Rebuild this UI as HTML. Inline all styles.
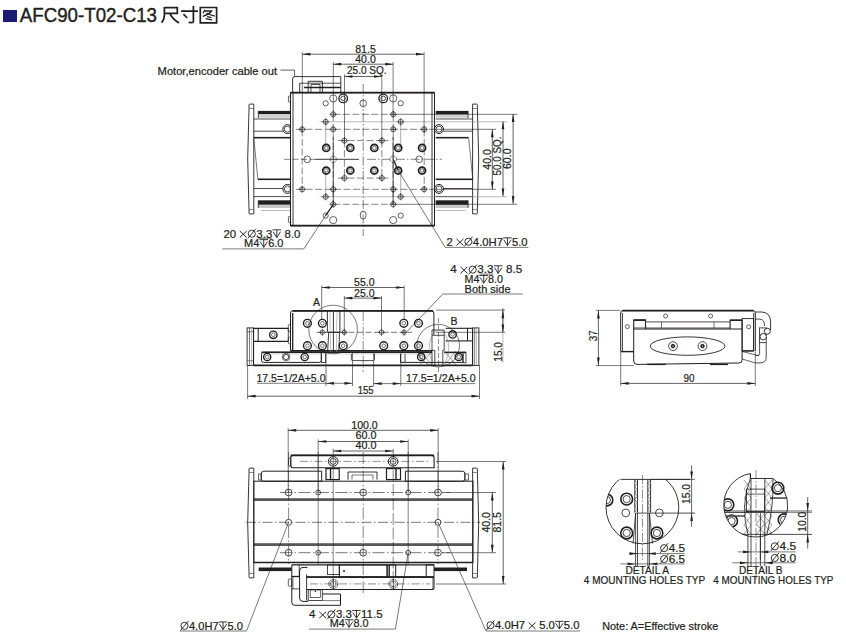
<!DOCTYPE html><html><head><meta charset="utf-8"><style>
html,body{margin:0;padding:0;background:#fff;width:846px;height:640px;overflow:hidden}
svg{display:block}
text{font-family:"Liberation Sans",sans-serif;fill:#231f20;white-space:pre}
</style></head><body>
<svg width="846" height="640" viewBox="0 0 846 640">
<rect x="3" y="10" width="14" height="12" fill="#1b1a72"/>
<g transform="translate(19.80 21.70)">
<text x="0.00" y="0" font-size="19.4" textLength="137.20" lengthAdjust="spacingAndGlyphs" stroke="#231f20" stroke-width="0.4">AFC90-T02-C13</text>
</g>
<g fill="none" stroke="#231f20" stroke-width="1.45" stroke-linecap="butt">
<path d="M164.4,7.7 H177.3 V13.3 H164.4 M164.4,7.0 V15.5 Q164.2,19.5 161.6,22.8" fill="none" stroke="#231f20" stroke-width="1.75"/>
<path d="M169.8,13.3 Q172.5,19 179,22.9" fill="none" stroke="#231f20" stroke-width="1.75"/>
<path d="M181.1,11 H197.9 M193.4,6 V21.2 Q193.4,22.6 191.8,22.6 L188.6,22.3 M183.4,14.2 L187.2,18" fill="none" stroke="#231f20" stroke-width="1.75"/>
<path d="M200.3,7.5 H216.6 V22.9 H200.3 Z" fill="none" stroke="#231f20" stroke-width="1.7"/>
<path d="M204.9,9.8 L203.1,13.2 M204.4,11 H211.6 Q209,14.5 202.7,16.3 M206.4,13 Q210,15 214.8,16.2 M207.1,16.6 L211.5,17.7 M205.6,18.7 L212.2,19.9" fill="none" stroke="#231f20" stroke-width="1.3"/>
</g>
<path d="M253.8,104.1 L249.8,104.1 Q249.0,104.1 249.0,105 L249.0,108.5 Q246.4,159 249.0,209.5 L249.0,213 Q249.0,213.9 249.8,213.9 L253.8,213.9 Z" fill="none" stroke="#231f20" stroke-width="0.9"/>
<line x1="249.0" y1="108.5" x2="253.8" y2="108.5" stroke="#231f20" stroke-width="0.5"/>
<line x1="249.0" y1="209.5" x2="253.8" y2="209.5" stroke="#231f20" stroke-width="0.5"/>
<line x1="253.8" y1="138.7" x2="257.9" y2="179.3" stroke="#231f20" stroke-width="0.6"/>
<rect x="258.30" y="110.90" width="32.40" height="3.40" fill="#231f20"/>
<rect x="258.30" y="114.30" width="32.40" height="3.50" fill="#d0d0d0"/>
<line x1="258.3" y1="110.9" x2="258.3" y2="118.0" stroke="#231f20" stroke-width="0.8"/>
<line x1="253.8" y1="119.0" x2="290.7" y2="119.0" stroke="#231f20" stroke-width="0.8"/>
<line x1="253.8" y1="131.2" x2="283.2" y2="131.2" stroke="#231f20" stroke-width="0.8"/>
<rect x="253.80" y="136.90" width="36.90" height="1.60" fill="#231f20"/>
<rect x="257.90" y="178.50" width="32.80" height="1.60" fill="#231f20"/>
<line x1="253.8" y1="188.5" x2="283.2" y2="188.5" stroke="#231f20" stroke-width="0.8"/>
<line x1="253.8" y1="196.6" x2="290.7" y2="196.6" stroke="#231f20" stroke-width="0.8"/>
<rect x="258.30" y="200.30" width="32.40" height="4.50" fill="#231f20"/>
<rect x="258.30" y="204.80" width="32.40" height="3.20" fill="#c8c8c8"/>
<line x1="258.3" y1="200.3" x2="258.3" y2="208.0" stroke="#231f20" stroke-width="0.8"/>
<line x1="261.2" y1="210.5" x2="290.7" y2="210.5" stroke="#999" stroke-width="0.7"/>
<circle cx="287.4" cy="129.1" r="4.5" fill="none" stroke="#231f20" stroke-width="1.0"/>
<circle cx="287.4" cy="129.1" r="3.0" fill="none" stroke="#231f20" stroke-width="0.8"/>
<circle cx="287.4" cy="188.9" r="4.5" fill="none" stroke="#231f20" stroke-width="1.0"/>
<circle cx="287.4" cy="188.9" r="3.0" fill="none" stroke="#231f20" stroke-width="0.8"/>
<rect x="288.4" y="96.0" width="2.0" height="6.1" rx="0.8" fill="none" stroke="#231f20" stroke-width="0.7"/>
<rect x="288.4" y="216.5" width="2.0" height="6.1" rx="0.8" fill="none" stroke="#231f20" stroke-width="0.7"/>
<path d="M472.6,104.1 L476.6,104.1 Q477.4,104.1 477.4,105 L477.4,108.5 Q480.0,159 477.4,209.5 L477.4,213 Q477.4,213.9 476.6,213.9 L472.6,213.9 Z" fill="none" stroke="#231f20" stroke-width="0.9"/>
<line x1="477.4" y1="108.5" x2="472.6" y2="108.5" stroke="#231f20" stroke-width="0.5"/>
<line x1="477.4" y1="209.5" x2="472.6" y2="209.5" stroke="#231f20" stroke-width="0.5"/>
<line x1="468.7" y1="138.7" x2="472.8" y2="179.3" stroke="#231f20" stroke-width="0.6"/>
<rect x="435.70" y="110.90" width="32.40" height="3.40" fill="#231f20"/>
<rect x="435.70" y="114.30" width="32.40" height="3.50" fill="#d0d0d0"/>
<line x1="468.1" y1="110.9" x2="468.1" y2="118.0" stroke="#231f20" stroke-width="0.8"/>
<line x1="472.6" y1="119.0" x2="435.7" y2="119.0" stroke="#231f20" stroke-width="0.8"/>
<line x1="472.6" y1="131.2" x2="443.2" y2="131.2" stroke="#231f20" stroke-width="0.8"/>
<rect x="435.70" y="136.90" width="33.00" height="1.60" fill="#231f20"/>
<rect x="435.70" y="178.50" width="37.10" height="1.60" fill="#231f20"/>
<line x1="472.6" y1="188.5" x2="443.2" y2="188.5" stroke="#231f20" stroke-width="0.8"/>
<line x1="472.6" y1="196.6" x2="435.7" y2="196.6" stroke="#231f20" stroke-width="0.8"/>
<rect x="435.70" y="200.30" width="32.40" height="4.50" fill="#231f20"/>
<rect x="435.70" y="204.80" width="32.40" height="3.20" fill="#c8c8c8"/>
<line x1="468.1" y1="200.3" x2="468.1" y2="208.0" stroke="#231f20" stroke-width="0.8"/>
<line x1="465.2" y1="210.5" x2="435.7" y2="210.5" stroke="#999" stroke-width="0.7"/>
<circle cx="439.0" cy="129.1" r="4.5" fill="none" stroke="#231f20" stroke-width="1.0"/>
<circle cx="439.0" cy="129.1" r="3.0" fill="none" stroke="#231f20" stroke-width="0.8"/>
<circle cx="439.0" cy="188.9" r="4.5" fill="none" stroke="#231f20" stroke-width="1.0"/>
<circle cx="439.0" cy="188.9" r="3.0" fill="none" stroke="#231f20" stroke-width="0.8"/>
<rect x="290.5" y="92.7" width="144" height="133" fill="#fff" stroke="#231f20" stroke-width="1"/>
<line x1="290.5" y1="92.7" x2="434.5" y2="92.7" stroke="#231f20" stroke-width="1.8"/>
<line x1="290.5" y1="225.7" x2="434.5" y2="225.7" stroke="#231f20" stroke-width="1.8"/>
<line x1="293.0" y1="92.7" x2="293.0" y2="225.7" stroke="#231f20" stroke-width="0.9"/>
<line x1="432.0" y1="92.7" x2="432.0" y2="225.7" stroke="#231f20" stroke-width="0.9"/>
<path d="M292.6,92.5 L292.6,79 Q292.6,76.6 295,76.6 L340.8,76.6 L340.8,92.5" fill="none" stroke="#231f20" stroke-width="0.9"/>
<line x1="299.7" y1="83.2" x2="340.8" y2="83.2" stroke="#231f20" stroke-width="0.8"/>
<line x1="303.9" y1="87.5" x2="340.8" y2="87.5" stroke="#231f20" stroke-width="1.5"/>
<path d="M308.2,92.5 L308.2,81.3 L322.4,81.3 L322.4,92.5" fill="none" stroke="#231f20" stroke-width="0.9"/>
<path d="M311,92.5 L311,84.5 L320,84.5 L320,92.5" fill="none" stroke="#231f20" stroke-width="0.8"/>
<line x1="299.7" y1="83.2" x2="299.7" y2="92.5" stroke="#231f20" stroke-width="0.9"/>
<line x1="363.2" y1="84.0" x2="363.2" y2="236.0" stroke="#231f20" stroke-width="0.55" stroke-dasharray="9 2 1.5 2"/>
<line x1="284.0" y1="159.3" x2="315.0" y2="159.3" stroke="#231f20" stroke-width="0.55" stroke-dasharray="6 2.5"/>
<line x1="315.0" y1="159.3" x2="359.0" y2="159.3" stroke="#231f20" stroke-width="0.9"/>
<line x1="367.0" y1="159.3" x2="442.0" y2="159.3" stroke="#231f20" stroke-width="0.55" stroke-dasharray="9 2 1.5 2"/>
<line x1="333.3" y1="114.3" x2="393.1" y2="114.3" stroke="#231f20" stroke-width="0.55" stroke-dasharray="7 2.5"/>
<line x1="393.1" y1="114.3" x2="517.0" y2="114.3" stroke="#231f20" stroke-width="0.6"/>
<line x1="319.5" y1="121.8" x2="507.0" y2="121.8" stroke="#8a8a8a" stroke-width="0.6"/>
<line x1="296.0" y1="129.3" x2="430.0" y2="129.3" stroke="#231f20" stroke-width="0.55" stroke-dasharray="7 2.5"/>
<line x1="430.0" y1="129.3" x2="496.0" y2="129.3" stroke="#231f20" stroke-width="0.6"/>
<line x1="338.0" y1="140.6" x2="388.4" y2="140.6" stroke="#231f20" stroke-width="0.55" stroke-dasharray="7 2.5"/>
<line x1="333.3" y1="204.3" x2="393.1" y2="204.3" stroke="#231f20" stroke-width="0.55" stroke-dasharray="7 2.5"/>
<line x1="393.1" y1="204.3" x2="517.0" y2="204.3" stroke="#231f20" stroke-width="0.6"/>
<line x1="319.5" y1="196.8" x2="507.0" y2="196.8" stroke="#8a8a8a" stroke-width="0.6"/>
<line x1="296.0" y1="189.3" x2="430.0" y2="189.3" stroke="#231f20" stroke-width="0.55" stroke-dasharray="7 2.5"/>
<line x1="430.0" y1="189.3" x2="496.0" y2="189.3" stroke="#231f20" stroke-width="0.6"/>
<line x1="338.0" y1="178.1" x2="388.4" y2="178.1" stroke="#231f20" stroke-width="0.55" stroke-dasharray="7 2.5"/>
<line x1="302.2" y1="129.4" x2="302.2" y2="189.2" stroke="#231f20" stroke-width="0.55" stroke-dasharray="7 2.5"/>
<line x1="333.2" y1="114.2" x2="333.2" y2="204.4" stroke="#231f20" stroke-width="0.55" stroke-dasharray="7 2.5"/>
<line x1="344.4" y1="140.6" x2="344.4" y2="178.0" stroke="#231f20" stroke-width="0.55" stroke-dasharray="7 2.5"/>
<line x1="325.7" y1="121.8" x2="325.7" y2="147.9" stroke="#777" stroke-width="0.6"/>
<line x1="325.7" y1="170.4" x2="325.7" y2="196.5" stroke="#777" stroke-width="0.6"/>
<line x1="424.2" y1="129.4" x2="424.2" y2="189.2" stroke="#231f20" stroke-width="0.55" stroke-dasharray="7 2.5"/>
<line x1="393.2" y1="114.2" x2="393.2" y2="204.4" stroke="#231f20" stroke-width="0.55" stroke-dasharray="7 2.5"/>
<line x1="381.9" y1="140.6" x2="381.9" y2="178.0" stroke="#231f20" stroke-width="0.55" stroke-dasharray="7 2.5"/>
<line x1="400.7" y1="121.8" x2="400.7" y2="147.9" stroke="#777" stroke-width="0.6"/>
<line x1="400.7" y1="170.4" x2="400.7" y2="196.5" stroke="#777" stroke-width="0.6"/>
<line x1="333.3" y1="137.0" x2="333.3" y2="204.5" stroke="#231f20" stroke-width="0.7"/>
<line x1="393.1" y1="137.0" x2="393.1" y2="204.5" stroke="#231f20" stroke-width="0.7"/>
<circle cx="302.2" cy="129.3" r="2.5" fill="none" stroke="#231f20" stroke-width="0.7"/>
<line x1="298.6" y1="129.3" x2="305.8" y2="129.3" stroke="#231f20" stroke-width="0.6"/>
<line x1="302.2" y1="125.7" x2="302.2" y2="132.9" stroke="#231f20" stroke-width="0.6"/>
<circle cx="333.2" cy="114.3" r="2.5" fill="none" stroke="#231f20" stroke-width="0.7"/>
<line x1="329.6" y1="114.3" x2="336.8" y2="114.3" stroke="#231f20" stroke-width="0.6"/>
<line x1="333.2" y1="110.7" x2="333.2" y2="117.9" stroke="#231f20" stroke-width="0.6"/>
<circle cx="333.2" cy="129.3" r="2.5" fill="none" stroke="#231f20" stroke-width="0.7"/>
<line x1="329.6" y1="129.3" x2="336.8" y2="129.3" stroke="#231f20" stroke-width="0.6"/>
<line x1="333.2" y1="125.7" x2="333.2" y2="132.9" stroke="#231f20" stroke-width="0.6"/>
<circle cx="325.7" cy="121.8" r="2.5" fill="none" stroke="#231f20" stroke-width="0.7"/>
<line x1="322.1" y1="121.8" x2="329.3" y2="121.8" stroke="#231f20" stroke-width="0.6"/>
<line x1="325.7" y1="118.2" x2="325.7" y2="125.4" stroke="#231f20" stroke-width="0.6"/>
<circle cx="344.4" cy="140.6" r="2.5" fill="none" stroke="#231f20" stroke-width="0.7"/>
<line x1="340.8" y1="140.6" x2="348.1" y2="140.6" stroke="#231f20" stroke-width="0.6"/>
<line x1="344.4" y1="137.0" x2="344.4" y2="144.2" stroke="#231f20" stroke-width="0.6"/>
<circle cx="302.2" cy="189.3" r="2.5" fill="none" stroke="#231f20" stroke-width="0.7"/>
<line x1="298.6" y1="189.3" x2="305.8" y2="189.3" stroke="#231f20" stroke-width="0.6"/>
<line x1="302.2" y1="185.7" x2="302.2" y2="192.9" stroke="#231f20" stroke-width="0.6"/>
<circle cx="333.2" cy="204.3" r="2.5" fill="none" stroke="#231f20" stroke-width="0.7"/>
<line x1="329.6" y1="204.3" x2="336.8" y2="204.3" stroke="#231f20" stroke-width="0.6"/>
<line x1="333.2" y1="200.7" x2="333.2" y2="207.9" stroke="#231f20" stroke-width="0.6"/>
<circle cx="333.2" cy="189.3" r="2.5" fill="none" stroke="#231f20" stroke-width="0.7"/>
<line x1="329.6" y1="189.3" x2="336.8" y2="189.3" stroke="#231f20" stroke-width="0.6"/>
<line x1="333.2" y1="185.7" x2="333.2" y2="192.9" stroke="#231f20" stroke-width="0.6"/>
<circle cx="325.7" cy="196.8" r="2.5" fill="none" stroke="#231f20" stroke-width="0.7"/>
<line x1="322.1" y1="196.8" x2="329.3" y2="196.8" stroke="#231f20" stroke-width="0.6"/>
<line x1="325.7" y1="193.2" x2="325.7" y2="200.4" stroke="#231f20" stroke-width="0.6"/>
<circle cx="344.4" cy="178.1" r="2.5" fill="none" stroke="#231f20" stroke-width="0.7"/>
<line x1="340.8" y1="178.1" x2="348.1" y2="178.1" stroke="#231f20" stroke-width="0.6"/>
<line x1="344.4" y1="174.5" x2="344.4" y2="181.7" stroke="#231f20" stroke-width="0.6"/>
<circle cx="424.2" cy="129.3" r="2.5" fill="none" stroke="#231f20" stroke-width="0.7"/>
<line x1="420.6" y1="129.3" x2="427.8" y2="129.3" stroke="#231f20" stroke-width="0.6"/>
<line x1="424.2" y1="125.7" x2="424.2" y2="132.9" stroke="#231f20" stroke-width="0.6"/>
<circle cx="393.2" cy="114.3" r="2.5" fill="none" stroke="#231f20" stroke-width="0.7"/>
<line x1="389.6" y1="114.3" x2="396.8" y2="114.3" stroke="#231f20" stroke-width="0.6"/>
<line x1="393.2" y1="110.7" x2="393.2" y2="117.9" stroke="#231f20" stroke-width="0.6"/>
<circle cx="393.2" cy="129.3" r="2.5" fill="none" stroke="#231f20" stroke-width="0.7"/>
<line x1="389.6" y1="129.3" x2="396.8" y2="129.3" stroke="#231f20" stroke-width="0.6"/>
<line x1="393.2" y1="125.7" x2="393.2" y2="132.9" stroke="#231f20" stroke-width="0.6"/>
<circle cx="400.7" cy="121.8" r="2.5" fill="none" stroke="#231f20" stroke-width="0.7"/>
<line x1="397.1" y1="121.8" x2="404.3" y2="121.8" stroke="#231f20" stroke-width="0.6"/>
<line x1="400.7" y1="118.2" x2="400.7" y2="125.4" stroke="#231f20" stroke-width="0.6"/>
<circle cx="381.9" cy="140.6" r="2.5" fill="none" stroke="#231f20" stroke-width="0.7"/>
<line x1="378.3" y1="140.6" x2="385.6" y2="140.6" stroke="#231f20" stroke-width="0.6"/>
<line x1="381.9" y1="137.0" x2="381.9" y2="144.2" stroke="#231f20" stroke-width="0.6"/>
<circle cx="424.2" cy="189.3" r="2.5" fill="none" stroke="#231f20" stroke-width="0.7"/>
<line x1="420.6" y1="189.3" x2="427.8" y2="189.3" stroke="#231f20" stroke-width="0.6"/>
<line x1="424.2" y1="185.7" x2="424.2" y2="192.9" stroke="#231f20" stroke-width="0.6"/>
<circle cx="393.2" cy="204.3" r="2.5" fill="none" stroke="#231f20" stroke-width="0.7"/>
<line x1="389.6" y1="204.3" x2="396.8" y2="204.3" stroke="#231f20" stroke-width="0.6"/>
<line x1="393.2" y1="200.7" x2="393.2" y2="207.9" stroke="#231f20" stroke-width="0.6"/>
<circle cx="393.2" cy="189.3" r="2.5" fill="none" stroke="#231f20" stroke-width="0.7"/>
<line x1="389.6" y1="189.3" x2="396.8" y2="189.3" stroke="#231f20" stroke-width="0.6"/>
<line x1="393.2" y1="185.7" x2="393.2" y2="192.9" stroke="#231f20" stroke-width="0.6"/>
<circle cx="400.7" cy="196.8" r="2.5" fill="none" stroke="#231f20" stroke-width="0.7"/>
<line x1="397.1" y1="196.8" x2="404.3" y2="196.8" stroke="#231f20" stroke-width="0.6"/>
<line x1="400.7" y1="193.2" x2="400.7" y2="200.4" stroke="#231f20" stroke-width="0.6"/>
<circle cx="381.9" cy="178.1" r="2.5" fill="none" stroke="#231f20" stroke-width="0.7"/>
<line x1="378.3" y1="178.1" x2="385.6" y2="178.1" stroke="#231f20" stroke-width="0.6"/>
<line x1="381.9" y1="174.5" x2="381.9" y2="181.7" stroke="#231f20" stroke-width="0.6"/>
<circle cx="326.2" cy="147.9" r="3.5" fill="none" stroke="#231f20" stroke-width="1.75"/>
<circle cx="326.2" cy="147.9" r="1.8" fill="none" stroke="#231f20" stroke-width="0.6"/>
<circle cx="326.2" cy="170.5" r="3.5" fill="none" stroke="#231f20" stroke-width="1.75"/>
<circle cx="326.2" cy="170.5" r="1.8" fill="none" stroke="#231f20" stroke-width="0.6"/>
<circle cx="350.3" cy="147.9" r="3.5" fill="none" stroke="#231f20" stroke-width="1.75"/>
<circle cx="350.3" cy="147.9" r="1.8" fill="none" stroke="#231f20" stroke-width="0.6"/>
<circle cx="350.3" cy="170.5" r="3.5" fill="none" stroke="#231f20" stroke-width="1.75"/>
<circle cx="350.3" cy="170.5" r="1.8" fill="none" stroke="#231f20" stroke-width="0.6"/>
<circle cx="374.3" cy="147.9" r="3.5" fill="none" stroke="#231f20" stroke-width="1.75"/>
<circle cx="374.3" cy="147.9" r="1.8" fill="none" stroke="#231f20" stroke-width="0.6"/>
<circle cx="374.3" cy="170.5" r="3.5" fill="none" stroke="#231f20" stroke-width="1.75"/>
<circle cx="374.3" cy="170.5" r="1.8" fill="none" stroke="#231f20" stroke-width="0.6"/>
<circle cx="398.2" cy="147.9" r="3.5" fill="none" stroke="#231f20" stroke-width="1.75"/>
<circle cx="398.2" cy="147.9" r="1.8" fill="none" stroke="#231f20" stroke-width="0.6"/>
<circle cx="398.2" cy="170.5" r="3.5" fill="none" stroke="#231f20" stroke-width="1.75"/>
<circle cx="398.2" cy="170.5" r="1.8" fill="none" stroke="#231f20" stroke-width="0.6"/>
<circle cx="422.1" cy="147.9" r="3.5" fill="none" stroke="#231f20" stroke-width="1.75"/>
<circle cx="422.1" cy="147.9" r="1.8" fill="none" stroke="#231f20" stroke-width="0.6"/>
<circle cx="422.1" cy="170.5" r="3.5" fill="none" stroke="#231f20" stroke-width="1.75"/>
<circle cx="422.1" cy="170.5" r="1.8" fill="none" stroke="#231f20" stroke-width="0.6"/>
<circle cx="307.2" cy="159.3" r="3.3" fill="none" stroke="#231f20" stroke-width="0.7"/>
<circle cx="419.2" cy="159.3" r="3.3" fill="none" stroke="#231f20" stroke-width="0.7"/>
<circle cx="333.2" cy="159.3" r="3.2" fill="none" stroke="#231f20" stroke-width="0.7" stroke-dasharray="1.5 1"/>
<circle cx="393.2" cy="159.3" r="3.2" fill="none" stroke="#231f20" stroke-width="0.7" stroke-dasharray="1.5 1"/>
<circle cx="333.2" cy="98.4" r="3.6" fill="none" stroke="#231f20" stroke-width="0.7"/>
<circle cx="343.2" cy="98.4" r="4.3" fill="none" stroke="#231f20" stroke-width="1.3"/>
<circle cx="343.2" cy="98.4" r="2.3" fill="none" stroke="#231f20" stroke-width="0.8"/>
<circle cx="325.7" cy="103.3" r="2.6" fill="none" stroke="#231f20" stroke-width="0.7"/>
<circle cx="333.2" cy="220.1" r="3.6" fill="none" stroke="#231f20" stroke-width="0.7"/>
<circle cx="325.7" cy="215.6" r="2.6" fill="none" stroke="#231f20" stroke-width="0.7"/>
<circle cx="393.2" cy="98.4" r="3.6" fill="none" stroke="#231f20" stroke-width="0.7"/>
<circle cx="383.2" cy="98.4" r="4.3" fill="none" stroke="#231f20" stroke-width="1.3"/>
<circle cx="383.2" cy="98.4" r="2.3" fill="none" stroke="#231f20" stroke-width="0.8"/>
<circle cx="400.7" cy="103.3" r="2.6" fill="none" stroke="#231f20" stroke-width="0.7"/>
<circle cx="393.2" cy="220.1" r="3.6" fill="none" stroke="#231f20" stroke-width="0.7"/>
<circle cx="400.7" cy="215.6" r="2.6" fill="none" stroke="#231f20" stroke-width="0.7"/>
<circle cx="363.2" cy="103.3" r="3.3" fill="none" stroke="#231f20" stroke-width="0.7"/>
<ellipse cx="363.2" cy="215.1" rx="3" ry="4" fill="none" stroke="#231f20" stroke-width="0.7"/>
<line x1="302.3" y1="52.0" x2="302.3" y2="129.4" stroke="#231f20" stroke-width="0.6"/>
<line x1="424.1" y1="52.0" x2="424.1" y2="129.4" stroke="#231f20" stroke-width="0.6"/>
<line x1="333.3" y1="62.0" x2="333.3" y2="114.2" stroke="#231f20" stroke-width="0.6"/>
<line x1="393.1" y1="62.0" x2="393.1" y2="114.2" stroke="#231f20" stroke-width="0.6"/>
<line x1="344.5" y1="74.3" x2="344.5" y2="140.6" stroke="#231f20" stroke-width="0.6"/>
<line x1="381.8" y1="74.3" x2="381.8" y2="140.6" stroke="#231f20" stroke-width="0.6"/>
<line x1="302.4" y1="54.2" x2="424.0" y2="54.2" stroke="#231f20" stroke-width="0.7"/>
<path d="M302.4,54.2 L310.4,52.85 L310.4,55.550000000000004 Z" fill="#231f20"/>
<path d="M424,54.2 L416,52.85 L416,55.550000000000004 Z" fill="#231f20"/>
<g transform="translate(365.50 52.60)">
<text x="-10.25" y="0" font-size="10.8" textLength="20.50" lengthAdjust="spacingAndGlyphs" stroke="#231f20" stroke-width="0.22">81.5</text>
</g>
<line x1="333.2" y1="64.2" x2="393.2" y2="64.2" stroke="#231f20" stroke-width="0.7"/>
<path d="M333.2,64.2 L341.2,62.85 L341.2,65.55 Z" fill="#231f20"/>
<path d="M393.2,64.2 L385.2,62.85 L385.2,65.55 Z" fill="#231f20"/>
<g transform="translate(365.50 62.70)">
<text x="-10.25" y="0" font-size="10.8" textLength="20.50" lengthAdjust="spacingAndGlyphs" stroke="#231f20" stroke-width="0.22">40.0</text>
</g>
<line x1="344.5" y1="76.5" x2="382.0" y2="76.5" stroke="#231f20" stroke-width="0.7"/>
<path d="M344.5,76.5 L352.5,75.15 L352.5,77.85 Z" fill="#231f20"/>
<path d="M382,76.5 L374,75.15 L374,77.85 Z" fill="#231f20"/>
<g transform="translate(366.80 74.30)">
<text x="-19.75" y="0" font-size="10.8" textLength="39.50" lengthAdjust="spacingAndGlyphs" stroke="#231f20" stroke-width="0.22">25.0 SQ.</text>
</g>
<line x1="513.1" y1="114.0" x2="513.1" y2="204.0" stroke="#231f20" stroke-width="0.7"/>
<path d="M513.1,114 L511.75,122 L514.45,122 Z" fill="#231f20"/>
<path d="M513.1,204 L511.75,196 L514.45,196 Z" fill="#231f20"/>
<line x1="503.0" y1="121.2" x2="503.0" y2="196.4" stroke="#231f20" stroke-width="0.7"/>
<path d="M503,121.2 L501.65,129.2 L504.35,129.2 Z" fill="#231f20"/>
<path d="M503,196.4 L501.65,188.4 L504.35,188.4 Z" fill="#231f20"/>
<line x1="492.3" y1="129.3" x2="492.3" y2="189.5" stroke="#231f20" stroke-width="0.7"/>
<path d="M492.3,129.3 L490.95,137.3 L493.65000000000003,137.3 Z" fill="#231f20"/>
<path d="M492.3,189.5 L490.95,181.5 L493.65000000000003,181.5 Z" fill="#231f20"/>
<g transform="translate(490.60 159.40) rotate(-90)">
<text x="-10.25" y="0" font-size="10.8" textLength="20.50" lengthAdjust="spacingAndGlyphs" stroke="#231f20" stroke-width="0.22">40.0</text>
</g>
<g transform="translate(500.60 156.00) rotate(-90)">
<text x="-19.50" y="0" font-size="10.8" textLength="39.00" lengthAdjust="spacingAndGlyphs" stroke="#231f20" stroke-width="0.22">50.0 SQ.</text>
</g>
<g transform="translate(510.60 158.75) rotate(-90)">
<text x="-10.25" y="0" font-size="10.8" textLength="20.50" lengthAdjust="spacingAndGlyphs" stroke="#231f20" stroke-width="0.22">60.0</text>
</g>
<g transform="translate(157.60 74.50)">
<text x="0.00" y="0" font-size="10.5" textLength="119.50" lengthAdjust="spacingAndGlyphs" stroke="#231f20" stroke-width="0.22">Motor,encoder cable out</text>
</g>
<path d="M280.4,70.1 L294.6,70.1 L294.6,77" fill="none" stroke="#231f20" stroke-width="0.7"/>
<g transform="translate(223.40 237.50)">
<text x="0.00" y="0" font-size="10.8" textLength="15.86" lengthAdjust="spacingAndGlyphs" stroke="#231f20" stroke-width="0.22">20 </text>
<path d="M16.39,-6.52 L23.32,0.00 M23.32,-6.52 L16.39,0" fill="none" stroke="#231f20" stroke-width="0.95"/>
<circle cx="28.41" cy="-3.77" r="3.57" fill="none" stroke="#231f20" stroke-width="0.9"/>
<path d="M32.49,-8.76 L24.34,1.02" stroke="#231f20" stroke-width="0.9"/>
<text x="32.98" y="0" font-size="10.8" textLength="15.86" lengthAdjust="spacingAndGlyphs" stroke="#231f20" stroke-width="0.22">3.3</text>
<path d="M49.12,-7.64 H57.68 M53.40,-7.64 V0.00 M49.74,-5.71 L53.40,0 L57.07,-5.71" fill="none" stroke="#231f20" stroke-width="0.9"/>
<text x="57.97" y="0" font-size="10.8" textLength="19.03" lengthAdjust="spacingAndGlyphs" stroke="#231f20" stroke-width="0.22"> 8.0</text>
</g>
<line x1="257.9" y1="238.2" x2="271.7" y2="238.2" stroke="#231f20" stroke-width="0.7"/>
<g transform="translate(244.10 247.30)">
<text x="0.00" y="0" font-size="10.8" textLength="15.25" lengthAdjust="spacingAndGlyphs" stroke="#231f20" stroke-width="0.22">M4</text>
<path d="M15.37,-7.64 H23.92 M19.64,-7.64 V0.00 M15.98,-5.71 L19.64,0 L23.31,-5.71" fill="none" stroke="#231f20" stroke-width="0.9"/>
<text x="24.04" y="0" font-size="10.8" textLength="15.26" lengthAdjust="spacingAndGlyphs" stroke="#231f20" stroke-width="0.22">6.0</text>
</g>
<path d="M222.3,248.9 L303.8,248.9 L325.6,215.6 L333.2,204.5" fill="none" stroke="#231f20" stroke-width="0.6"/>
<path d="M325.6,215.6 L333.2,204.5" fill="none" stroke="#231f20" stroke-width="1.2"/>
<g transform="translate(446.60 245.50)">
<text x="0.00" y="0" font-size="10.8" textLength="9.39" lengthAdjust="spacingAndGlyphs" stroke="#231f20" stroke-width="0.22">2 </text>
<path d="M9.87,-6.52 L16.80,0.00 M16.80,-6.52 L9.87,0" fill="none" stroke="#231f20" stroke-width="0.95"/>
<circle cx="21.78" cy="-3.77" r="3.57" fill="none" stroke="#231f20" stroke-width="0.9"/>
<path d="M25.86,-8.76 L17.70,1.02" stroke="#231f20" stroke-width="0.9"/>
<text x="26.28" y="0" font-size="10.8" textLength="30.05" lengthAdjust="spacingAndGlyphs" stroke="#231f20" stroke-width="0.22">4.0H7</text>
<path d="M56.56,-7.64 H65.12 M60.84,-7.64 V0.00 M57.17,-5.71 L60.84,0 L64.51,-5.71" fill="none" stroke="#231f20" stroke-width="0.9"/>
<text x="65.34" y="0" font-size="10.8" textLength="15.66" lengthAdjust="spacingAndGlyphs" stroke="#231f20" stroke-width="0.22">5.0</text>
</g>
<path d="M528.4,247.4 L445.2,247.4 L398.3,170.4 L393.5,160" fill="none" stroke="#231f20" stroke-width="0.6"/>
<path d="M398.3,170.4 L393.5,160" fill="none" stroke="#231f20" stroke-width="1.2"/>
<line x1="253.6" y1="365.4" x2="472.6" y2="365.4" stroke="#231f20" stroke-width="1.7"/>
<line x1="253.6" y1="327.9" x2="253.6" y2="365.4" stroke="#231f20" stroke-width="1.0"/>
<line x1="472.6" y1="327.9" x2="472.6" y2="365.4" stroke="#231f20" stroke-width="1.0"/>
<rect x="247.1" y="327.9" width="6.3" height="37.6" rx="0" fill="none" stroke="#231f20" stroke-width="0.9"/>
<line x1="249.5" y1="327.9" x2="249.5" y2="365.5" stroke="#231f20" stroke-width="0.6"/>
<line x1="251.5" y1="327.9" x2="251.5" y2="365.5" stroke="#888" stroke-width="0.5"/>
<line x1="247.1" y1="331.7" x2="253.3" y2="331.7" stroke="#231f20" stroke-width="0.5"/>
<line x1="247.1" y1="360.7" x2="253.3" y2="360.7" stroke="#231f20" stroke-width="0.5"/>
<rect x="472.6" y="327.9" width="6.3" height="37.6" rx="0" fill="none" stroke="#231f20" stroke-width="0.9"/>
<line x1="474.7" y1="327.9" x2="474.7" y2="365.5" stroke="#231f20" stroke-width="0.6"/>
<line x1="476.5" y1="327.9" x2="476.5" y2="365.5" stroke="#888" stroke-width="0.5"/>
<line x1="253.3" y1="328.4" x2="288.3" y2="328.4" stroke="#231f20" stroke-width="1.1"/>
<line x1="253.6" y1="341.4" x2="288.3" y2="341.4" stroke="#231f20" stroke-width="1.1"/>
<line x1="258.2" y1="328.4" x2="258.2" y2="341.4" stroke="#231f20" stroke-width="1.0"/>
<line x1="288.3" y1="328.4" x2="288.3" y2="341.4" stroke="#231f20" stroke-width="0.8"/>
<circle cx="273.3" cy="334.8" r="3.7" fill="none" stroke="#231f20" stroke-width="1.4"/>
<circle cx="273.3" cy="334.8" r="1.8" fill="none" stroke="#231f20" stroke-width="0.6"/>
<rect x="288.3" y="324.6" width="2.2" height="7.1" rx="0.9" fill="none" stroke="#231f20" stroke-width="0.7"/>
<rect x="288.3" y="337.2" width="2.2" height="6.6" rx="0.9" fill="none" stroke="#231f20" stroke-width="0.7"/>
<line x1="445.6" y1="328.3" x2="472.6" y2="328.3" stroke="#231f20" stroke-width="1.1"/>
<line x1="445.6" y1="340.9" x2="472.6" y2="340.9" stroke="#231f20" stroke-width="1.1"/>
<line x1="467.5" y1="328.3" x2="467.5" y2="340.9" stroke="#231f20" stroke-width="1.0"/>
<circle cx="452.6" cy="334.4" r="3.7" fill="none" stroke="#231f20" stroke-width="1.4"/>
<circle cx="452.6" cy="334.4" r="1.8" fill="none" stroke="#231f20" stroke-width="0.6"/>
<path d="M290.5,351 L290.5,313 Q290.5,310.9 292.7,310.9 L431.7,310.9 Q433.9,310.9 433.9,313 L433.9,334.8" fill="none" stroke="#231f20" stroke-width="1.0"/>
<line x1="292.7" y1="310.9" x2="433.0" y2="310.9" stroke="#231f20" stroke-width="1.9"/>
<line x1="292.7" y1="313.0" x2="292.7" y2="350.9" stroke="#231f20" stroke-width="1.3"/>
<line x1="290.5" y1="350.9" x2="432.0" y2="350.9" stroke="#231f20" stroke-width="1.7"/>
<path d="M321.3,352.3 L263.5,352.3 Q261.5,352.3 261.5,354.3 L261.5,360.4 Q261.5,362.4 263.5,362.4 L319.3,362.4 Q321.3,362.4 321.3,360.4 Z" fill="none" stroke="#231f20" stroke-width="1.0"/>
<line x1="261.5" y1="352.3" x2="432.0" y2="352.3" stroke="#231f20" stroke-width="1.4"/>
<line x1="444.2" y1="352.3" x2="466.0" y2="352.3" stroke="#231f20" stroke-width="1.4"/>
<line x1="261.5" y1="353.9" x2="432.0" y2="353.9" stroke="#999" stroke-width="0.5"/>
<line x1="444.2" y1="353.9" x2="466.0" y2="353.9" stroke="#999" stroke-width="0.5"/>
<circle cx="267.2" cy="357.0" r="3.6" fill="none" stroke="#231f20" stroke-width="1.4"/>
<circle cx="267.2" cy="357.0" r="1.8" fill="none" stroke="#231f20" stroke-width="0.6"/>
<circle cx="286.1" cy="357.0" r="3.8" fill="none" stroke="#231f20" stroke-width="0.7"/>
<circle cx="286.1" cy="357.0" r="2.6" fill="none" stroke="#231f20" stroke-width="0.8"/>
<circle cx="304.7" cy="357.0" r="3.6" fill="none" stroke="#231f20" stroke-width="1.4"/>
<circle cx="304.7" cy="357.0" r="1.8" fill="none" stroke="#231f20" stroke-width="0.6"/>
<rect x="321.3" y="352.3" width="4.4" height="10.1" rx="0" fill="none" stroke="#231f20" stroke-width="0.8"/>
<path d="M351.4,353.9 L351.4,359.4 Q351.4,360.6 352.6,360.6 L373.3,360.6 Q374.5,360.6 374.5,359.4 L374.5,353.9" fill="none" stroke="#231f20" stroke-width="0.8"/>
<path d="M400.6,353.9 L400.6,362.4 L463,362.4 L463,353.9" fill="none" stroke="#231f20" stroke-width="1.0"/>
<line x1="405.0" y1="353.9" x2="405.0" y2="362.4" stroke="#231f20" stroke-width="0.8"/>
<circle cx="421.2" cy="356.9" r="3.6" fill="none" stroke="#231f20" stroke-width="1.4"/>
<circle cx="421.2" cy="356.9" r="1.8" fill="none" stroke="#231f20" stroke-width="0.6"/>
<circle cx="458.7" cy="356.9" r="3.6" fill="none" stroke="#231f20" stroke-width="1.4"/>
<circle cx="458.7" cy="356.9" r="1.8" fill="none" stroke="#231f20" stroke-width="0.6"/>
<rect x="463.0" y="352.3" width="3.0" height="10.5" rx="0" fill="none" stroke="#231f20" stroke-width="0.8"/>
<circle cx="307.4" cy="323.3" r="3.9" fill="none" stroke="#231f20" stroke-width="1.4"/>
<circle cx="307.4" cy="323.3" r="1.8" fill="none" stroke="#231f20" stroke-width="0.6"/>
<circle cx="322.4" cy="323.3" r="3.9" fill="none" stroke="#231f20" stroke-width="1.4"/>
<circle cx="322.4" cy="323.3" r="1.8" fill="none" stroke="#231f20" stroke-width="0.6"/>
<circle cx="403.8" cy="323.3" r="3.9" fill="none" stroke="#231f20" stroke-width="1.4"/>
<circle cx="403.8" cy="323.3" r="1.8" fill="none" stroke="#231f20" stroke-width="0.6"/>
<circle cx="418.5" cy="323.3" r="3.9" fill="none" stroke="#231f20" stroke-width="1.4"/>
<circle cx="418.5" cy="323.3" r="1.8" fill="none" stroke="#231f20" stroke-width="0.6"/>
<circle cx="307.4" cy="345.7" r="3.9" fill="none" stroke="#231f20" stroke-width="1.4"/>
<circle cx="307.4" cy="345.7" r="1.8" fill="none" stroke="#231f20" stroke-width="0.6"/>
<circle cx="322.4" cy="345.7" r="3.9" fill="none" stroke="#231f20" stroke-width="1.4"/>
<circle cx="322.4" cy="345.7" r="1.8" fill="none" stroke="#231f20" stroke-width="0.6"/>
<circle cx="343.2" cy="345.7" r="3.9" fill="none" stroke="#231f20" stroke-width="1.4"/>
<circle cx="343.2" cy="345.7" r="1.8" fill="none" stroke="#231f20" stroke-width="0.6"/>
<circle cx="383.7" cy="345.7" r="3.9" fill="none" stroke="#231f20" stroke-width="1.4"/>
<circle cx="383.7" cy="345.7" r="1.8" fill="none" stroke="#231f20" stroke-width="0.6"/>
<circle cx="403.8" cy="345.7" r="3.9" fill="none" stroke="#231f20" stroke-width="1.4"/>
<circle cx="403.8" cy="345.7" r="1.8" fill="none" stroke="#231f20" stroke-width="0.6"/>
<circle cx="418.5" cy="345.7" r="3.9" fill="none" stroke="#231f20" stroke-width="1.4"/>
<circle cx="418.5" cy="345.7" r="1.8" fill="none" stroke="#231f20" stroke-width="0.6"/>
<circle cx="322.4" cy="332.3" r="2.2" fill="none" stroke="#231f20" stroke-width="0.7"/>
<line x1="318.8" y1="332.3" x2="326.0" y2="332.3" stroke="#231f20" stroke-width="0.6"/>
<line x1="322.4" y1="328.7" x2="322.4" y2="335.9" stroke="#231f20" stroke-width="0.6"/>
<circle cx="344.3" cy="332.3" r="2.2" fill="none" stroke="#231f20" stroke-width="0.7"/>
<line x1="340.7" y1="332.3" x2="347.9" y2="332.3" stroke="#231f20" stroke-width="0.6"/>
<line x1="344.3" y1="328.7" x2="344.3" y2="335.9" stroke="#231f20" stroke-width="0.6"/>
<circle cx="381.5" cy="332.3" r="2.2" fill="none" stroke="#231f20" stroke-width="0.7"/>
<line x1="377.9" y1="332.3" x2="385.1" y2="332.3" stroke="#231f20" stroke-width="0.6"/>
<line x1="381.5" y1="328.7" x2="381.5" y2="335.9" stroke="#231f20" stroke-width="0.6"/>
<circle cx="404.1" cy="332.3" r="2.2" fill="none" stroke="#231f20" stroke-width="0.7"/>
<line x1="400.5" y1="332.3" x2="407.7" y2="332.3" stroke="#231f20" stroke-width="0.6"/>
<line x1="404.1" y1="328.7" x2="404.1" y2="335.9" stroke="#231f20" stroke-width="0.6"/>
<line x1="316.4" y1="332.3" x2="327.4" y2="332.3" stroke="#231f20" stroke-width="0.6" stroke-dasharray="6 2.5"/>
<line x1="340.0" y1="332.3" x2="412.0" y2="332.3" stroke="#231f20" stroke-width="0.6" stroke-dasharray="6 2.5"/>
<path d="M327.4,332.3 L327.4,310.9 M339.9,310.9 L339.9,332.3" fill="none" stroke="#231f20" stroke-width="0.9"/>
<line x1="327.4" y1="332.3" x2="339.9" y2="332.3" stroke="#231f20" stroke-width="1.3"/>
<path d="M328.7,332.3 L327.6,352 M339.5,332.3 L338.8,352" fill="none" stroke="#231f20" stroke-width="0.9"/>
<line x1="333.4" y1="312.0" x2="333.4" y2="352.0" stroke="#231f20" stroke-width="0.9"/>
<line x1="330.1" y1="312.0" x2="330.1" y2="332.0" stroke="#888" stroke-width="0.5"/>
<line x1="337.2" y1="312.0" x2="336.3" y2="332.0" stroke="#888" stroke-width="0.5"/>
<line x1="330.5" y1="334.0" x2="330.5" y2="352.0" stroke="#888" stroke-width="0.5"/>
<line x1="336.5" y1="334.0" x2="336.5" y2="352.0" stroke="#888" stroke-width="0.5"/>
<circle cx="333.1" cy="329.5" r="24.3" fill="none" stroke="#231f20" stroke-width="0.6"/>
<circle cx="438.2" cy="345.6" r="21.3" fill="none" stroke="#231f20" stroke-width="0.6"/>
<path d="M432,366 L432,330 L444.2,330 L444.2,350.3 L442.8,350.3 L442.8,366" fill="none" stroke="#231f20" stroke-width="0.8"/>
<line x1="432.0" y1="335.3" x2="444.2" y2="335.3" stroke="#231f20" stroke-width="0.8"/>
<line x1="434.8" y1="350.3" x2="434.8" y2="366.0" stroke="#231f20" stroke-width="0.8"/>
<line x1="432.0" y1="350.3" x2="434.8" y2="350.3" stroke="#231f20" stroke-width="0.8"/>
<line x1="438.5" y1="318.0" x2="438.5" y2="372.0" stroke="#231f20" stroke-width="0.5" stroke-dasharray="5 2"/>
<ellipse cx="439" cy="348" rx="9.8" ry="18" fill="none" stroke="#777" stroke-width="0.5"/>
<path d="M420,351 L432,365 M432,351 L420,365 M444.5,351 L456,365 M456,351 L444.5,365" fill="none" stroke="#231f20" stroke-width="0.4"/>
<g transform="translate(316.40 306.40)">
<text x="-3.50" y="0" font-size="10.8" textLength="7.00" lengthAdjust="spacingAndGlyphs" stroke="#231f20" stroke-width="0.22">A</text>
</g>
<g transform="translate(453.90 324.80)">
<text x="-3.50" y="0" font-size="10.8" textLength="7.00" lengthAdjust="spacingAndGlyphs" stroke="#231f20" stroke-width="0.22">B</text>
</g>
<line x1="321.7" y1="285.5" x2="321.7" y2="319.0" stroke="#231f20" stroke-width="0.6"/>
<line x1="404.2" y1="285.5" x2="404.2" y2="319.0" stroke="#231f20" stroke-width="0.6"/>
<line x1="344.3" y1="296.0" x2="344.3" y2="330.0" stroke="#231f20" stroke-width="0.6"/>
<line x1="381.5" y1="296.0" x2="381.5" y2="330.0" stroke="#231f20" stroke-width="0.6"/>
<line x1="363.2" y1="312.0" x2="363.2" y2="372.0" stroke="#231f20" stroke-width="0.5" stroke-dasharray="9 2 1.5 2"/>
<line x1="321.7" y1="287.5" x2="404.2" y2="287.5" stroke="#231f20" stroke-width="0.7"/>
<path d="M321.7,287.5 L329.7,286.15 L329.7,288.85 Z" fill="#231f20"/>
<path d="M404.2,287.5 L396.2,286.15 L396.2,288.85 Z" fill="#231f20"/>
<g transform="translate(364.30 286.20)">
<text x="-10.25" y="0" font-size="10.8" textLength="20.50" lengthAdjust="spacingAndGlyphs" stroke="#231f20" stroke-width="0.22">55.0</text>
</g>
<line x1="344.3" y1="298.1" x2="381.5" y2="298.1" stroke="#231f20" stroke-width="0.7"/>
<path d="M344.3,298.1 L352.3,296.75 L352.3,299.45000000000005 Z" fill="#231f20"/>
<path d="M381.5,298.1 L373.5,296.75 L373.5,299.45000000000005 Z" fill="#231f20"/>
<g transform="translate(364.30 296.60)">
<text x="-10.25" y="0" font-size="10.8" textLength="20.50" lengthAdjust="spacingAndGlyphs" stroke="#231f20" stroke-width="0.22">25.0</text>
</g>
<line x1="436.0" y1="310.1" x2="505.0" y2="310.1" stroke="#231f20" stroke-width="0.6"/>
<line x1="436.0" y1="332.3" x2="505.0" y2="332.3" stroke="#231f20" stroke-width="0.6"/>
<line x1="502.9" y1="308.5" x2="502.9" y2="363.0" stroke="#9a9a9a" stroke-width="0.7"/>
<line x1="502.9" y1="308.5" x2="502.9" y2="332.5" stroke="#231f20" stroke-width="0.7"/>
<path d="M502.9,310.2 L501.54999999999995,318.2 L504.25,318.2 Z" fill="#231f20"/>
<path d="M502.9,332.5 L501.54999999999995,324.5 L504.25,324.5 Z" fill="#231f20"/>
<g transform="translate(501.70 351.90) rotate(-90)">
<text x="-9.75" y="0" font-size="10.8" textLength="19.50" lengthAdjust="spacingAndGlyphs" stroke="#231f20" stroke-width="0.22">15.0</text>
</g>
<g transform="translate(450.20 273.40)">
<text x="0.00" y="0" font-size="10.8" textLength="9.70" lengthAdjust="spacingAndGlyphs" stroke="#231f20" stroke-width="0.22">4 </text>
<path d="M10.30,-6.52 L17.23,0.00 M17.23,-6.52 L10.30,0" fill="none" stroke="#231f20" stroke-width="0.95"/>
<circle cx="22.49" cy="-3.77" r="3.57" fill="none" stroke="#231f20" stroke-width="0.9"/>
<path d="M26.56,-8.76 L18.41,1.02" stroke="#231f20" stroke-width="0.9"/>
<text x="27.14" y="0" font-size="10.8" textLength="16.16" lengthAdjust="spacingAndGlyphs" stroke="#231f20" stroke-width="0.22">3.3</text>
<path d="M43.67,-7.64 H52.23 M47.95,-7.64 V0.00 M44.29,-5.71 L47.95,0 L51.62,-5.71" fill="none" stroke="#231f20" stroke-width="0.9"/>
<text x="52.61" y="0" font-size="10.8" textLength="19.39" lengthAdjust="spacingAndGlyphs" stroke="#231f20" stroke-width="0.22"> 8.5</text>
</g>
<line x1="479.4" y1="274.1" x2="493.2" y2="274.1" stroke="#231f20" stroke-width="0.7"/>
<g transform="translate(464.50 283.20)">
<text x="0.00" y="0" font-size="10.8" textLength="14.94" lengthAdjust="spacingAndGlyphs" stroke="#231f20" stroke-width="0.22">M4</text>
<path d="M14.97,-7.64 H23.52 M19.24,-7.64 V0.00 M15.58,-5.71 L19.24,0 L22.91,-5.71" fill="none" stroke="#231f20" stroke-width="0.9"/>
<text x="23.55" y="0" font-size="10.8" textLength="14.95" lengthAdjust="spacingAndGlyphs" stroke="#231f20" stroke-width="0.22">8.0</text>
</g>
<g transform="translate(464.60 292.50)">
<text x="0.00" y="0" font-size="10.8" textLength="46.00" lengthAdjust="spacingAndGlyphs" stroke="#231f20" stroke-width="0.22">Both side</text>
</g>
<path d="M522.8,294 L442.8,294 L406.5,332.1" fill="none" stroke="#231f20" stroke-width="0.6"/>
<line x1="326.0" y1="352.0" x2="326.0" y2="386.0" stroke="#231f20" stroke-width="0.6"/>
<line x1="352.5" y1="352.0" x2="352.5" y2="386.0" stroke="#231f20" stroke-width="0.6"/>
<line x1="373.6" y1="352.0" x2="373.6" y2="386.0" stroke="#231f20" stroke-width="0.6"/>
<line x1="400.8" y1="352.0" x2="400.8" y2="386.0" stroke="#231f20" stroke-width="0.6"/>
<line x1="257.0" y1="383.3" x2="352.5" y2="383.3" stroke="#231f20" stroke-width="0.6"/>
<path d="M326,383.3 L334,381.95 L334,384.65000000000003 Z" fill="#231f20"/>
<path d="M352.5,383.3 L344.5,381.95 L344.5,384.65000000000003 Z" fill="#231f20"/>
<g transform="translate(256.50 381.80)">
<text x="0.00" y="0" font-size="10.8" textLength="69.00" lengthAdjust="spacingAndGlyphs" stroke="#231f20" stroke-width="0.22">17.5=1/2A+5.0</text>
</g>
<line x1="373.6" y1="383.6" x2="475.2" y2="383.6" stroke="#231f20" stroke-width="0.6"/>
<path d="M373.6,383.6 L381.6,382.25 L381.6,384.95000000000005 Z" fill="#231f20"/>
<path d="M400.8,383.6 L392.8,382.25 L392.8,384.95000000000005 Z" fill="#231f20"/>
<g transform="translate(406.00 381.50)">
<text x="0.00" y="0" font-size="10.8" textLength="69.70" lengthAdjust="spacingAndGlyphs" stroke="#231f20" stroke-width="0.22">17.5=1/2A+5.0</text>
</g>
<line x1="247.6" y1="365.0" x2="247.6" y2="399.0" stroke="#231f20" stroke-width="0.6"/>
<line x1="479.5" y1="365.0" x2="479.5" y2="399.0" stroke="#231f20" stroke-width="0.6"/>
<line x1="247.6" y1="396.2" x2="479.5" y2="396.2" stroke="#231f20" stroke-width="0.7"/>
<path d="M247.6,396.2 L255.6,394.84999999999997 L255.6,397.55 Z" fill="#231f20"/>
<path d="M479.5,396.2 L471.5,394.84999999999997 L471.5,397.55 Z" fill="#231f20"/>
<g transform="translate(365.70 394.20)">
<text x="-8.00" y="0" font-size="10.8" textLength="16.00" lengthAdjust="spacingAndGlyphs" stroke="#231f20" stroke-width="0.22">155</text>
</g>
<path d="M620.7,351.4 L620.7,313 Q620.7,310.6 623,310.6 L752.8,310.6 Q755.3,310.6 755.3,313 L755.3,351.4" fill="none" stroke="#231f20" stroke-width="1.0"/>
<line x1="622.5" y1="310.6" x2="753.6" y2="310.6" stroke="#231f20" stroke-width="1.8"/>
<line x1="622.5" y1="313.0" x2="622.5" y2="350.8" stroke="#231f20" stroke-width="0.8"/>
<line x1="753.6" y1="313.0" x2="753.6" y2="350.9" stroke="#231f20" stroke-width="0.8"/>
<line x1="620.7" y1="351.6" x2="633.7" y2="351.6" stroke="#231f20" stroke-width="1.4"/>
<path d="M633.7,329 L742.1,329 L742.1,360 Q742.1,363 739,363 L637,364.4 Q633.7,364.4 633.7,361 Z" fill="none" stroke="#231f20" stroke-width="1.0"/>
<line x1="633.7" y1="327.8" x2="645.5" y2="327.8" stroke="#231f20" stroke-width="0.6"/>
<path d="M633.7,329 L633.7,320.1 L645.5,320.1 L645.5,329" fill="none" stroke="#231f20" stroke-width="1.1"/>
<line x1="633.7" y1="320.1" x2="645.5" y2="320.1" stroke="#231f20" stroke-width="1.6"/>
<line x1="645.5" y1="321.9" x2="730.1" y2="321.9" stroke="#231f20" stroke-width="0.8"/>
<line x1="645.5" y1="328.0" x2="730.1" y2="328.0" stroke="#231f20" stroke-width="0.8"/>
<line x1="661.5" y1="321.9" x2="661.5" y2="328.0" stroke="#231f20" stroke-width="0.6"/>
<line x1="714.0" y1="321.9" x2="714.0" y2="328.0" stroke="#231f20" stroke-width="0.6"/>
<path d="M730.1,329 L730.1,320.2 L742.1,320.2 L742.1,329" fill="none" stroke="#231f20" stroke-width="1.1"/>
<line x1="730.1" y1="320.2" x2="742.1" y2="320.2" stroke="#231f20" stroke-width="1.6"/>
<rect x="742.1" y="318.6" width="11.5" height="32.3" rx="0" fill="none" stroke="#231f20" stroke-width="0.9"/>
<line x1="742.1" y1="350.9" x2="753.6" y2="350.9" stroke="#231f20" stroke-width="1.3"/>
<circle cx="627.4" cy="326.6" r="2.0" fill="none" stroke="#231f20" stroke-width="0.7"/>
<circle cx="748.7" cy="326.8" r="2.0" fill="none" stroke="#231f20" stroke-width="0.7"/>
<circle cx="665.6" cy="316.0" r="2.0" fill="none" stroke="#231f20" stroke-width="0.7"/>
<circle cx="710.6" cy="316.0" r="2.0" fill="none" stroke="#231f20" stroke-width="0.7"/>
<ellipse cx="687.6" cy="346.1" rx="37.4" ry="9.2" fill="none" stroke="#231f20" stroke-width="0.9"/>
<circle cx="673.0" cy="346.1" r="4.4" fill="none" stroke="#231f20" stroke-width="0.8"/>
<circle cx="673.0" cy="346.1" r="1.8" fill="none" stroke="#231f20" stroke-width="0.8"/>
<circle cx="702.5" cy="346.1" r="4.4" fill="none" stroke="#231f20" stroke-width="0.8"/>
<circle cx="702.5" cy="346.1" r="1.8" fill="none" stroke="#231f20" stroke-width="0.8"/>
<circle cx="673.0" cy="346.1" r="1.3" fill="none" stroke="#231f20" stroke-width="1.2"/>
<circle cx="702.5" cy="346.1" r="1.3" fill="none" stroke="#231f20" stroke-width="1.2"/>
<line x1="647.3" y1="364.4" x2="665.6" y2="364.4" stroke="#231f20" stroke-width="1.4"/>
<line x1="710.0" y1="364.4" x2="728.0" y2="364.4" stroke="#231f20" stroke-width="1.4"/>
<path d="M755.3,312 L762,312 Q770.6,312.5 770.6,322 L770.6,330" fill="none" stroke="#231f20" stroke-width="0.9"/>
<path d="M755.3,319.1 L760,319.1 Q764.6,319.5 764.6,326" fill="none" stroke="#231f20" stroke-width="0.8"/>
<rect x="759.6" y="327.9" width="6.6" height="14.8" rx="0" fill="none" stroke="#231f20" stroke-width="0.8"/>
<circle cx="767.3" cy="331.2" r="3.0" fill="#fff" stroke="#231f20" stroke-width="0.9"/>
<circle cx="763.2" cy="336.7" r="3.2" fill="#fff" stroke="#231f20" stroke-width="0.9"/>
<path d="M766.2,342.7 L766.2,357 Q766.2,362.9 760,362.9 L755.3,362.9" fill="none" stroke="#231f20" stroke-width="0.8"/>
<path d="M759.6,342.7 L759.6,353.6 Q759.6,355.5 757.5,355.5 L755.3,355.5" fill="none" stroke="#231f20" stroke-width="0.8"/>
<path d="M742.1,351.4 L759,355.8" fill="none" stroke="#231f20" stroke-width="0.7"/>
<path d="M742.1,359 L755.3,362.9" fill="none" stroke="#231f20" stroke-width="0.7"/>
<line x1="596.0" y1="310.4" x2="620.0" y2="310.4" stroke="#231f20" stroke-width="0.6"/>
<line x1="596.0" y1="365.6" x2="634.0" y2="365.6" stroke="#231f20" stroke-width="0.6"/>
<line x1="598.4" y1="310.4" x2="598.4" y2="365.6" stroke="#231f20" stroke-width="0.7"/>
<path d="M598.4,310.4 L597.05,318.4 L599.75,318.4 Z" fill="#231f20"/>
<path d="M598.4,365.6 L597.05,357.6 L599.75,357.6 Z" fill="#231f20"/>
<g transform="translate(597.40 335.85) rotate(-90)">
<text x="-5.50" y="0" font-size="10.8" textLength="11.00" lengthAdjust="spacingAndGlyphs" stroke="#231f20" stroke-width="0.22">37</text>
</g>
<line x1="620.7" y1="352.0" x2="620.7" y2="386.0" stroke="#231f20" stroke-width="0.6"/>
<line x1="755.3" y1="352.0" x2="755.3" y2="386.0" stroke="#231f20" stroke-width="0.6"/>
<line x1="620.7" y1="383.4" x2="755.3" y2="383.4" stroke="#231f20" stroke-width="0.7"/>
<path d="M620.7,383.4 L628.7,382.04999999999995 L628.7,384.75 Z" fill="#231f20"/>
<path d="M755.3,383.4 L747.3,382.04999999999995 L747.3,384.75 Z" fill="#231f20"/>
<g transform="translate(688.90 381.60)">
<text x="-5.50" y="0" font-size="10.8" textLength="11.00" lengthAdjust="spacingAndGlyphs" stroke="#231f20" stroke-width="0.22">90</text>
</g>
<path d="M253.8,468.1 L249.8,468.1 Q249.0,468.1 249.0,469 L249.0,472.5 Q246.4,522.5 249.0,573.5 L249.0,577 Q249.0,577.9 249.8,577.9 L253.8,577.9 Z" fill="none" stroke="#231f20" stroke-width="0.9"/>
<line x1="249.0" y1="472.5" x2="253.8" y2="472.5" stroke="#231f20" stroke-width="0.5"/>
<line x1="249.0" y1="573.5" x2="253.8" y2="573.5" stroke="#231f20" stroke-width="0.5"/>
<path d="M472.6,468.1 L476.6,468.1 Q477.4,468.1 477.4,469 L477.4,472.5 Q480.0,522.5 477.4,573.5 L477.4,577 Q477.4,577.9 476.6,577.9 L472.6,577.9 Z" fill="none" stroke="#231f20" stroke-width="0.9"/>
<line x1="477.4" y1="472.5" x2="472.6" y2="472.5" stroke="#231f20" stroke-width="0.5"/>
<line x1="477.4" y1="573.5" x2="472.6" y2="573.5" stroke="#231f20" stroke-width="0.5"/>
<rect x="253.8" y="481.2" width="219.2" height="81.3" rx="0" fill="none" stroke="#231f20" stroke-width="1.0"/>
<line x1="253.8" y1="500.0" x2="473.0" y2="500.0" stroke="#231f20" stroke-width="1.6"/>
<line x1="253.8" y1="498.5" x2="473.0" y2="498.5" stroke="#231f20" stroke-width="0.6"/>
<line x1="253.8" y1="545.0" x2="473.0" y2="545.0" stroke="#231f20" stroke-width="1.6"/>
<line x1="253.8" y1="543.5" x2="473.0" y2="543.5" stroke="#231f20" stroke-width="0.6"/>
<line x1="253.8" y1="562.5" x2="473.0" y2="562.5" stroke="#231f20" stroke-width="1.6"/>
<line x1="246.0" y1="522.3" x2="480.0" y2="522.3" stroke="#231f20" stroke-width="0.6" stroke-dasharray="10 2.5 1.5 2.5"/>
<line x1="280.0" y1="492.5" x2="450.0" y2="492.5" stroke="#231f20" stroke-width="0.6" stroke-dasharray="12 2.5 1.5 2.5"/>
<line x1="280.0" y1="552.7" x2="450.0" y2="552.7" stroke="#231f20" stroke-width="0.6" stroke-dasharray="12 2.5 1.5 2.5"/>
<line x1="288.6" y1="452.0" x2="288.6" y2="564.0" stroke="#231f20" stroke-width="0.55" stroke-dasharray="12 2.5 1.5 2.5"/>
<line x1="438.0" y1="452.0" x2="438.0" y2="564.0" stroke="#231f20" stroke-width="0.55" stroke-dasharray="12 2.5 1.5 2.5"/>
<line x1="318.2" y1="452.0" x2="318.2" y2="564.0" stroke="#231f20" stroke-width="0.55"/>
<line x1="408.2" y1="452.0" x2="408.2" y2="564.0" stroke="#231f20" stroke-width="0.55"/>
<line x1="363.2" y1="452.0" x2="363.2" y2="593.0" stroke="#231f20" stroke-width="0.55" stroke-dasharray="12 2.5 1.5 2.5"/>
<line x1="333.2" y1="455.0" x2="333.2" y2="589.0" stroke="#231f20" stroke-width="0.55"/>
<line x1="393.2" y1="455.0" x2="393.2" y2="589.0" stroke="#231f20" stroke-width="0.55" stroke-dasharray="12 2.5"/>
<circle cx="288.6" cy="492.5" r="3.4" fill="none" stroke="#231f20" stroke-width="0.8"/>
<circle cx="363.2" cy="492.5" r="3.4" fill="none" stroke="#231f20" stroke-width="0.8"/>
<circle cx="438.0" cy="492.5" r="3.4" fill="none" stroke="#231f20" stroke-width="0.8"/>
<circle cx="318.2" cy="492.5" r="2.4" fill="none" stroke="#231f20" stroke-width="0.8"/>
<circle cx="408.2" cy="492.5" r="2.4" fill="none" stroke="#231f20" stroke-width="0.8"/>
<circle cx="288.6" cy="552.7" r="3.4" fill="none" stroke="#231f20" stroke-width="0.8"/>
<circle cx="363.2" cy="552.7" r="3.4" fill="none" stroke="#231f20" stroke-width="0.8"/>
<circle cx="438.0" cy="552.7" r="3.4" fill="none" stroke="#231f20" stroke-width="0.8"/>
<circle cx="318.2" cy="552.7" r="2.4" fill="none" stroke="#231f20" stroke-width="0.8"/>
<circle cx="408.2" cy="552.7" r="2.4" fill="none" stroke="#231f20" stroke-width="0.8"/>
<circle cx="288.6" cy="522.3" r="3.0" fill="none" stroke="#231f20" stroke-width="0.8"/>
<circle cx="438.0" cy="522.3" r="3.0" fill="none" stroke="#231f20" stroke-width="0.8"/>
<rect x="258.7" y="567.5" width="33" height="3.6" fill="#231f20"/>
<rect x="434" y="567.5" width="33" height="3.6" fill="#231f20"/>
<path d="M293,455.4 L432,455.4 Q434.1,455.4 434.1,458 L434.1,467.7 L293,467.7 Q290.7,467.7 290.7,465 L290.7,458 Q290.7,455.4 293,455.4 Z" fill="none" stroke="#231f20" stroke-width="1.1"/>
<line x1="290.7" y1="455.4" x2="434.1" y2="455.4" stroke="#231f20" stroke-width="1.6"/>
<rect x="288.5" y="458.0" width="2.4" height="8.0" rx="1" fill="none" stroke="#231f20" stroke-width="0.7"/>
<line x1="300.0" y1="461.4" x2="430.0" y2="461.4" stroke="#231f20" stroke-width="0.5" stroke-dasharray="8 2.5 1.5 2.5"/>
<circle cx="333.2" cy="461.4" r="4.8" fill="none" stroke="#231f20" stroke-width="1.0"/>
<circle cx="333.2" cy="461.4" r="3.0" fill="none" stroke="#231f20" stroke-width="0.8"/>
<circle cx="393.1" cy="461.4" r="4.8" fill="none" stroke="#231f20" stroke-width="1.0"/>
<circle cx="393.1" cy="461.4" r="3.0" fill="none" stroke="#231f20" stroke-width="0.8"/>
<path d="M263.5,471.2 L321.7,471.2 L321.7,481.25 L263.5,481.25 Q261.2,481.25 261.2,478.5 L261.2,474 Q261.2,471.2 263.5,471.2 Z" fill="none" stroke="#231f20" stroke-width="1.0"/>
<rect x="258.7" y="474.0" width="2.5" height="6.0" rx="0" fill="none" stroke="#231f20" stroke-width="0.7"/>
<path d="M405.4,471.2 L462.5,471.2 Q464.9,471.2 464.9,474 L464.9,478.5 Q464.9,481.25 462.5,481.25 L405.4,481.25 Z" fill="none" stroke="#231f20" stroke-width="1.0"/>
<rect x="464.9" y="474.0" width="3.5" height="6.0" rx="0" fill="none" stroke="#231f20" stroke-width="0.7"/>
<rect x="326.0" y="468.6" width="13.2" height="11.0" rx="0" fill="none" stroke="#231f20" stroke-width="1.2"/>
<line x1="330.5" y1="468.6" x2="330.5" y2="479.6" stroke="#231f20" stroke-width="1.4"/>
<rect x="386.5" y="468.6" width="14.0" height="11.0" rx="0" fill="none" stroke="#231f20" stroke-width="1.2"/>
<line x1="396.0" y1="468.6" x2="396.0" y2="479.6" stroke="#231f20" stroke-width="1.4"/>
<path d="M348,479.6 L348,472 L377,472 L377,479.6" fill="none" stroke="#231f20" stroke-width="0.9"/>
<line x1="352.0" y1="475.0" x2="352.0" y2="479.6" stroke="#231f20" stroke-width="0.6"/>
<line x1="373.0" y1="475.0" x2="373.0" y2="479.6" stroke="#231f20" stroke-width="0.6"/>
<line x1="352.0" y1="475.0" x2="373.0" y2="475.0" stroke="#231f20" stroke-width="0.6"/>
<line x1="288.2" y1="428.0" x2="288.2" y2="492.0" stroke="#231f20" stroke-width="0.6"/>
<line x1="438.2" y1="428.0" x2="438.2" y2="492.0" stroke="#231f20" stroke-width="0.6"/>
<line x1="318.2" y1="439.3" x2="318.2" y2="492.0" stroke="#231f20" stroke-width="0.6"/>
<line x1="408.2" y1="439.3" x2="408.2" y2="492.0" stroke="#231f20" stroke-width="0.6"/>
<line x1="333.2" y1="448.8" x2="333.2" y2="455.0" stroke="#231f20" stroke-width="0.6"/>
<line x1="393.2" y1="448.8" x2="393.2" y2="455.0" stroke="#231f20" stroke-width="0.6"/>
<line x1="288.2" y1="430.3" x2="438.2" y2="430.3" stroke="#231f20" stroke-width="0.7"/>
<path d="M288.2,430.3 L296.2,428.95 L296.2,431.65000000000003 Z" fill="#231f20"/>
<path d="M438.2,430.3 L430.2,428.95 L430.2,431.65000000000003 Z" fill="#231f20"/>
<g transform="translate(364.50 428.60)">
<text x="-13.25" y="0" font-size="10.8" textLength="26.50" lengthAdjust="spacingAndGlyphs" stroke="#231f20" stroke-width="0.22">100.0</text>
</g>
<line x1="318.2" y1="441.5" x2="408.2" y2="441.5" stroke="#231f20" stroke-width="0.7"/>
<path d="M318.2,441.5 L326.2,440.15 L326.2,442.85 Z" fill="#231f20"/>
<path d="M408.2,441.5 L400.2,440.15 L400.2,442.85 Z" fill="#231f20"/>
<g transform="translate(365.90 439.40)">
<text x="-10.50" y="0" font-size="10.8" textLength="21.00" lengthAdjust="spacingAndGlyphs" stroke="#231f20" stroke-width="0.22">60.0</text>
</g>
<line x1="333.2" y1="451.0" x2="393.2" y2="451.0" stroke="#231f20" stroke-width="0.7"/>
<path d="M333.2,451 L341.2,449.65 L341.2,452.35 Z" fill="#231f20"/>
<path d="M393.2,451 L385.2,449.65 L385.2,452.35 Z" fill="#231f20"/>
<g transform="translate(365.90 449.30)">
<text x="-10.50" y="0" font-size="10.8" textLength="21.00" lengthAdjust="spacingAndGlyphs" stroke="#231f20" stroke-width="0.22">40.0</text>
</g>
<line x1="436.0" y1="461.5" x2="506.0" y2="461.5" stroke="#231f20" stroke-width="0.6"/>
<line x1="436.0" y1="584.0" x2="506.0" y2="584.0" stroke="#231f20" stroke-width="0.6"/>
<line x1="442.0" y1="492.5" x2="496.0" y2="492.5" stroke="#231f20" stroke-width="0.6"/>
<line x1="442.0" y1="552.7" x2="496.0" y2="552.7" stroke="#231f20" stroke-width="0.6"/>
<line x1="492.3" y1="492.5" x2="492.3" y2="552.7" stroke="#231f20" stroke-width="0.7"/>
<path d="M492.3,492.5 L490.95,500.5 L493.65000000000003,500.5 Z" fill="#231f20"/>
<path d="M492.3,552.7 L490.95,544.7 L493.65000000000003,544.7 Z" fill="#231f20"/>
<line x1="503.2" y1="461.6" x2="503.2" y2="584.1" stroke="#231f20" stroke-width="0.7"/>
<path d="M503.2,461.6 L501.84999999999997,469.6 L504.55,469.6 Z" fill="#231f20"/>
<path d="M503.2,584.1 L501.84999999999997,576.1 L504.55,576.1 Z" fill="#231f20"/>
<g transform="translate(489.60 522.30) rotate(-90)">
<text x="-10.25" y="0" font-size="10.8" textLength="20.50" lengthAdjust="spacingAndGlyphs" stroke="#231f20" stroke-width="0.22">40.0</text>
</g>
<g transform="translate(500.60 522.30) rotate(-90)">
<text x="-10.25" y="0" font-size="10.8" textLength="20.50" lengthAdjust="spacingAndGlyphs" stroke="#231f20" stroke-width="0.22">81.5</text>
</g>
<line x1="291.8" y1="564.9" x2="434.0" y2="564.9" stroke="#231f20" stroke-width="1.4"/>
<path d="M291.8,564.9 L291.8,602.3 Q291.8,605.3 294.8,605.3 L340.5,605.3 L340.5,594 L322.3,594" fill="none" stroke="#231f20" stroke-width="1.0"/>
<line x1="299.2" y1="564.9" x2="299.2" y2="576.5" stroke="#231f20" stroke-width="0.8"/>
<line x1="291.8" y1="576.5" x2="299.2" y2="576.5" stroke="#231f20" stroke-width="1.3"/>
<rect x="288.3" y="579.0" width="3.5" height="7.2" rx="1" fill="none" stroke="#231f20" stroke-width="0.7"/>
<line x1="293.0" y1="577.0" x2="293.0" y2="589.0" stroke="#231f20" stroke-width="0.6"/>
<line x1="291.8" y1="588.9" x2="299.8" y2="588.9" stroke="#231f20" stroke-width="0.8"/>
<rect x="327.4" y="564.9" width="11.8" height="9.6" rx="0" fill="none" stroke="#231f20" stroke-width="0.8"/>
<rect x="339.4" y="564.9" width="47.6" height="12.2" rx="0" fill="none" stroke="#231f20" stroke-width="1.0"/>
<circle cx="344.0" cy="571.0" r="1.0" fill="#231f20" stroke="#231f20" stroke-width="0"/>
<rect x="387.2" y="564.9" width="8.5" height="12.2" rx="0" fill="none" stroke="#231f20" stroke-width="1.0"/>
<line x1="389.2" y1="564.9" x2="389.2" y2="577.1" stroke="#231f20" stroke-width="1.4"/>
<rect x="426.2" y="564.9" width="7.8" height="12.2" rx="0" fill="none" stroke="#231f20" stroke-width="1.0"/>
<line x1="395.7" y1="577.1" x2="426.2" y2="577.1" stroke="#231f20" stroke-width="1.0"/>
<path d="M306.6,577.1 L432,577.1 Q434,577.1 434,579 L434,587.5 Q434,589.5 432,589.5 L306.6,589.5" fill="none" stroke="#231f20" stroke-width="1.1"/>
<line x1="306.6" y1="577.1" x2="434.0" y2="577.1" stroke="#231f20" stroke-width="1.5"/>
<line x1="432.7" y1="578.0" x2="432.7" y2="589.0" stroke="#231f20" stroke-width="0.5"/>
<line x1="310.0" y1="583.9" x2="430.0" y2="583.9" stroke="#231f20" stroke-width="0.5" stroke-dasharray="8 2.5 1.5 2.5"/>
<circle cx="333.3" cy="583.9" r="4.5" fill="none" stroke="#231f20" stroke-width="0.9" stroke-dasharray="2 0.8"/>
<circle cx="333.3" cy="583.9" r="2.9" fill="none" stroke="#231f20" stroke-width="0.6"/>
<line x1="333.3" y1="579.5" x2="333.3" y2="588.3" stroke="#231f20" stroke-width="0.6"/>
<circle cx="393.3" cy="583.9" r="4.5" fill="none" stroke="#231f20" stroke-width="0.9" stroke-dasharray="2 0.8"/>
<circle cx="393.3" cy="583.9" r="2.9" fill="none" stroke="#231f20" stroke-width="0.6"/>
<line x1="393.3" y1="579.5" x2="393.3" y2="588.3" stroke="#231f20" stroke-width="0.6"/>
<path d="M307.4,567.4 L303,567.4 Q299.6,567.4 299.6,571 L299.6,598 Q299.6,601.4 303,601.4 L308.2,601.4" fill="none" stroke="#231f20" stroke-width="1.0"/>
<path d="M306.6,574.5 L306.6,600.6" fill="none" stroke="#231f20" stroke-width="0.9"/>
<rect x="308.2" y="589.5" width="14.1" height="11.1" rx="0" fill="none" stroke="#231f20" stroke-width="0.8"/>
<rect x="310.2" y="590.0" width="10.1" height="7.5" rx="0" fill="none" stroke="#231f20" stroke-width="0.7"/>
<circle cx="315.4" cy="591.5" r="0.8" fill="#231f20" stroke="#231f20" stroke-width="0"/>
<line x1="322.3" y1="600.6" x2="340.5" y2="600.6" stroke="#231f20" stroke-width="0.6"/>
<g transform="translate(309.10 618.20)">
<text x="0.00" y="0" font-size="10.8" textLength="9.58" lengthAdjust="spacingAndGlyphs" stroke="#231f20" stroke-width="0.22">4 </text>
<path d="M10.14,-6.52 L17.07,0.00 M17.07,-6.52 L10.14,0" fill="none" stroke="#231f20" stroke-width="0.95"/>
<circle cx="22.22" cy="-3.77" r="3.57" fill="none" stroke="#231f20" stroke-width="0.9"/>
<path d="M26.30,-8.76 L18.15,1.02" stroke="#231f20" stroke-width="0.9"/>
<text x="26.82" y="0" font-size="10.8" textLength="15.97" lengthAdjust="spacingAndGlyphs" stroke="#231f20" stroke-width="0.22">3.3</text>
<path d="M43.11,-7.64 H51.67 M47.39,-7.64 V0.00 M43.72,-5.71 L47.39,0 L51.06,-5.71" fill="none" stroke="#231f20" stroke-width="0.9"/>
<text x="51.99" y="0" font-size="10.8" textLength="21.51" lengthAdjust="spacingAndGlyphs" stroke="#231f20" stroke-width="0.22">11.5</text>
</g>
<g transform="translate(329.70 627.40)">
<text x="0.00" y="0" font-size="10.8" textLength="15.06" lengthAdjust="spacingAndGlyphs" stroke="#231f20" stroke-width="0.22">M4</text>
<path d="M15.12,-7.64 H23.67 M19.39,-7.64 V0.00 M15.73,-5.71 L19.39,0 L23.06,-5.71" fill="none" stroke="#231f20" stroke-width="0.9"/>
<text x="23.73" y="0" font-size="10.8" textLength="15.07" lengthAdjust="spacingAndGlyphs" stroke="#231f20" stroke-width="0.22">8.0</text>
</g>
<path d="M309,629.1 L395.4,629.1 L408.2,552.7" fill="none" stroke="#231f20" stroke-width="0.6"/>
<g transform="translate(180.00 629.60)">
<circle cx="4.45" cy="-3.77" r="3.57" fill="none" stroke="#231f20" stroke-width="0.9"/>
<path d="M8.53,-8.76 L0.38,1.02" stroke="#231f20" stroke-width="0.9"/>
<text x="8.91" y="0" font-size="10.8" textLength="29.71" lengthAdjust="spacingAndGlyphs" stroke="#231f20" stroke-width="0.22">4.0H7</text>
<path d="M38.79,-7.64 H47.35 M43.07,-7.64 V0.00 M39.40,-5.71 L43.07,0 L46.74,-5.71" fill="none" stroke="#231f20" stroke-width="0.9"/>
<text x="47.52" y="0" font-size="10.8" textLength="15.48" lengthAdjust="spacingAndGlyphs" stroke="#231f20" stroke-width="0.22">5.0</text>
</g>
<path d="M180,631 L246.5,631 L288.6,522.3" fill="none" stroke="#231f20" stroke-width="0.6"/>
<g transform="translate(486.00 629.00)">
<circle cx="4.50" cy="-3.77" r="3.57" fill="none" stroke="#231f20" stroke-width="0.9"/>
<path d="M8.58,-8.76 L0.43,1.02" stroke="#231f20" stroke-width="0.9"/>
<text x="9.01" y="0" font-size="10.8" textLength="33.17" lengthAdjust="spacingAndGlyphs" stroke="#231f20" stroke-width="0.22">4.0H7 </text>
<path d="M42.66,-6.52 L49.58,0.00 M49.58,-6.52 L42.66,0" fill="none" stroke="#231f20" stroke-width="0.95"/>
<text x="50.06" y="0" font-size="10.8" textLength="18.78" lengthAdjust="spacingAndGlyphs" stroke="#231f20" stroke-width="0.22"> 5.0</text>
<path d="M69.07,-7.64 H77.62 M73.34,-7.64 V0.00 M69.68,-5.71 L73.34,0 L77.01,-5.71" fill="none" stroke="#231f20" stroke-width="0.9"/>
<text x="77.85" y="0" font-size="10.8" textLength="15.65" lengthAdjust="spacingAndGlyphs" stroke="#231f20" stroke-width="0.22">5.0</text>
</g>
<path d="M486,631 L580,631 M486,631 L438,522.3" fill="none" stroke="#231f20" stroke-width="0.6"/>
<g transform="translate(602.20 630.10)">
<text x="0.00" y="0" font-size="10.8" textLength="116.00" lengthAdjust="spacingAndGlyphs" stroke="#231f20" stroke-width="0.22">Note: A=Effective stroke</text>
</g>
<defs><clipPath id="cA"><rect x="600" y="479.4" width="90" height="70"/></clipPath><clipPath id="cAc"><circle cx="642.4" cy="507.4" r="36.4"/></clipPath><clipPath id="cBc"><circle cx="755.8" cy="504.5" r="32"/></clipPath></defs>
<g clip-path="url(#cA)">
<circle cx="642.4" cy="507.4" r="36.4" fill="none" stroke="#231f20" stroke-width="0.9"/>
</g>
<line x1="620.6" y1="479.4" x2="690.0" y2="479.4" stroke="#231f20" stroke-width="0.9"/>
<g clip-path="url(#cAc)">
<circle cx="606.9" cy="500.0" r="5.9" fill="none" stroke="#231f20" stroke-width="1.6"/>
<circle cx="606.9" cy="500.0" r="3.6" fill="none" stroke="#231f20" stroke-width="0.8"/>
</g>
<line x1="634.8" y1="479.4" x2="634.8" y2="512.5" stroke="#231f20" stroke-width="0.9"/>
<line x1="650.6" y1="479.4" x2="650.6" y2="512.5" stroke="#231f20" stroke-width="0.9"/>
<line x1="637.5" y1="479.4" x2="637.5" y2="512.5" stroke="#231f20" stroke-width="0.9"/>
<line x1="647.8" y1="479.4" x2="647.8" y2="512.5" stroke="#231f20" stroke-width="0.9"/>
<path d="M634.75,480.0 L637.5,483.25 L634.75,486.5 M650.6,480.0 L647.75,483.25 L650.6,486.5" fill="none" stroke="#231f20" stroke-width="0.45"/>
<path d="M634.75,486.5 L637.5,489.75 L634.75,493.0 M650.6,486.5 L647.75,489.75 L650.6,493.0" fill="none" stroke="#231f20" stroke-width="0.45"/>
<path d="M634.75,493.0 L637.5,496.25 L634.75,499.5 M650.6,493.0 L647.75,496.25 L650.6,499.5" fill="none" stroke="#231f20" stroke-width="0.45"/>
<path d="M634.75,499.5 L637.5,502.75 L634.75,506.0 M650.6,499.5 L647.75,502.75 L650.6,506.0" fill="none" stroke="#231f20" stroke-width="0.45"/>
<path d="M634.75,506.0 L637.5,509.25 L634.75,512.5 M650.6,506.0 L647.75,509.25 L650.6,512.5" fill="none" stroke="#231f20" stroke-width="0.45"/>
<line x1="642.5" y1="475.0" x2="642.5" y2="560.0" stroke="#231f20" stroke-width="0.5" stroke-dasharray="9 2 1.5 2"/>
<line x1="636.2" y1="513.1" x2="695.0" y2="513.1" stroke="#231f20" stroke-width="0.8"/>
<path d="M635.6,513.1 L633.1,543.5 M649.4,513.1 L652.5,543.5" fill="none" stroke="#231f20" stroke-width="0.8"/>
<line x1="635.6" y1="513.1" x2="635.6" y2="566.0" stroke="#231f20" stroke-width="0.8"/>
<line x1="637.5" y1="513.1" x2="637.5" y2="566.0" stroke="#231f20" stroke-width="0.8"/>
<line x1="647.8" y1="513.1" x2="647.8" y2="566.0" stroke="#231f20" stroke-width="0.8"/>
<line x1="649.4" y1="513.1" x2="649.4" y2="566.0" stroke="#231f20" stroke-width="0.8"/>
<circle cx="626.7" cy="499.1" r="5.9" fill="none" stroke="#231f20" stroke-width="1.6"/>
<circle cx="626.7" cy="499.1" r="3.6" fill="none" stroke="#231f20" stroke-width="0.8"/>
<circle cx="626.7" cy="533.0" r="5.9" fill="none" stroke="#231f20" stroke-width="1.6"/>
<circle cx="626.7" cy="533.0" r="3.6" fill="none" stroke="#231f20" stroke-width="0.8"/>
<circle cx="656.9" cy="533.0" r="5.9" fill="none" stroke="#231f20" stroke-width="1.6"/>
<circle cx="656.9" cy="533.0" r="3.6" fill="none" stroke="#231f20" stroke-width="0.8"/>
<circle cx="625.8" cy="512.9" r="3.9" fill="none" stroke="#231f20" stroke-width="0.8"/>
<circle cx="659.4" cy="512.9" r="3.9" fill="none" stroke="#231f20" stroke-width="0.8"/>
<line x1="651.1" y1="479.4" x2="695.0" y2="479.4" stroke="#231f20" stroke-width="0.6"/>
<line x1="691.6" y1="465.5" x2="691.6" y2="526.7" stroke="#231f20" stroke-width="0.7"/>
<path d="M691.6,479.4 L690.25,471.4 L692.95,471.4 Z" fill="#231f20"/>
<path d="M691.6,513.1 L690.25,521.1 L692.95,521.1 Z" fill="#231f20"/>
<g transform="translate(689.60 494.00) rotate(-90)">
<text x="-10.00" y="0" font-size="10.8" textLength="20.00" lengthAdjust="spacingAndGlyphs" stroke="#231f20" stroke-width="0.22">15.0</text>
</g>
<line x1="629.2" y1="553.6" x2="684.6" y2="553.6" stroke="#231f20" stroke-width="0.6"/>
<path d="M637.5,553.6 L629.5,552.25 L629.5,554.95 Z" fill="#231f20"/>
<path d="M647.75,553.6 L655.75,552.25 L655.75,554.95 Z" fill="#231f20"/>
<g transform="translate(659.40 551.90)">
<circle cx="4.69" cy="-3.77" r="3.57" fill="none" stroke="#231f20" stroke-width="0.9"/>
<path d="M8.77,-8.76 L0.62,1.02" stroke="#231f20" stroke-width="0.9"/>
<text x="9.39" y="0" font-size="10.8" textLength="16.31" lengthAdjust="spacingAndGlyphs" stroke="#231f20" stroke-width="0.22">4.5</text>
</g>
<line x1="620.5" y1="563.9" x2="684.6" y2="563.9" stroke="#231f20" stroke-width="0.6"/>
<path d="M635.6,563.9 L627.6,562.55 L627.6,565.25 Z" fill="#231f20"/>
<path d="M649.4,563.9 L657.4,562.55 L657.4,565.25 Z" fill="#231f20"/>
<g transform="translate(659.40 562.80)">
<circle cx="4.69" cy="-3.77" r="3.57" fill="none" stroke="#231f20" stroke-width="0.9"/>
<path d="M8.77,-8.76 L0.62,1.02" stroke="#231f20" stroke-width="0.9"/>
<text x="9.39" y="0" font-size="10.8" textLength="16.31" lengthAdjust="spacingAndGlyphs" stroke="#231f20" stroke-width="0.22">6.5</text>
</g>
<g transform="translate(647.20 574.20)">
<text x="-21.75" y="0" font-size="10.8" textLength="43.50" lengthAdjust="spacingAndGlyphs" stroke="#231f20" stroke-width="0.22">DETAIL A</text>
</g>
<g transform="translate(644.50 584.30)">
<text x="-60.65" y="0" font-size="10.8" textLength="121.30" lengthAdjust="spacingAndGlyphs" stroke="#231f20" stroke-width="0.22">4 MOUNTING HOLES TYP</text>
</g>
<path d="M750.4,473.5 A32,32 0 1 0 787.6,508" fill="none" stroke="#231f20" stroke-width="0.9"/>
<path d="M787.6,508 A32,32 0 0 0 772.9,478.5" fill="none" stroke="#231f20" stroke-width="0.9"/>
<line x1="750.4" y1="473.5" x2="750.4" y2="478.5" stroke="#231f20" stroke-width="1.2"/>
<line x1="750.4" y1="478.5" x2="772.9" y2="478.5" stroke="#231f20" stroke-width="0.9"/>
<line x1="742.2" y1="534.4" x2="812.0" y2="534.4" stroke="#231f20" stroke-width="0.8"/>
<g clip-path="url(#cBc)">
<circle cx="727.9" cy="504.8" r="5.9" fill="none" stroke="#231f20" stroke-width="1.6"/>
<circle cx="727.9" cy="504.8" r="3.6" fill="none" stroke="#231f20" stroke-width="0.8"/>
<circle cx="731.6" cy="521.0" r="5.9" fill="none" stroke="#231f20" stroke-width="1.6"/>
<circle cx="731.6" cy="521.0" r="3.6" fill="none" stroke="#231f20" stroke-width="0.8"/>
<circle cx="784.1" cy="519.8" r="5.9" fill="none" stroke="#231f20" stroke-width="1.6"/>
<circle cx="784.1" cy="519.8" r="3.6" fill="none" stroke="#231f20" stroke-width="0.8"/>
<line x1="720.0" y1="511.0" x2="812.0" y2="511.0" stroke="#231f20" stroke-width="0.8"/>
<line x1="720.0" y1="512.5" x2="812.0" y2="512.5" stroke="#231f20" stroke-width="0.8"/>
<rect x="720.00" y="515.20" width="25.00" height="1.60" fill="#555"/>
<rect x="770.00" y="497.40" width="20.00" height="1.30" fill="#231f20"/>
</g>
<line x1="787.0" y1="511.0" x2="812.0" y2="511.0" stroke="#231f20" stroke-width="0.7"/>
<line x1="787.0" y1="512.5" x2="812.0" y2="512.5" stroke="#231f20" stroke-width="0.5"/>
<circle cx="777.9" cy="488.2" r="5.9" fill="none" stroke="#231f20" stroke-width="1.6"/>
<circle cx="777.9" cy="488.2" r="3.6" fill="none" stroke="#231f20" stroke-width="0.8"/>
<path d="M750.4,478.5 Q740,505 747.9,534.4" fill="none" stroke="#231f20" stroke-width="0.8"/>
<path d="M772.9,478.5 Q774,505 767,534.4" fill="none" stroke="#231f20" stroke-width="0.8"/>
<line x1="751.0" y1="478.5" x2="751.0" y2="534.4" stroke="#231f20" stroke-width="0.8"/>
<line x1="764.8" y1="478.5" x2="764.8" y2="534.4" stroke="#231f20" stroke-width="0.8"/>
<line x1="760.4" y1="513.0" x2="760.4" y2="560.0" stroke="#231f20" stroke-width="0.8"/>
<line x1="756.0" y1="470.0" x2="756.0" y2="580.0" stroke="#231f20" stroke-width="0.5" stroke-dasharray="9 2 1.5 2"/>
<rect x="746.6" y="489.1" width="18.1" height="22.5" rx="0" fill="none" stroke="#231f20" stroke-width="0.8"/>
<line x1="746.6" y1="494.1" x2="764.8" y2="494.1" stroke="#231f20" stroke-width="0.7"/>
<path d="M744,480 L751,489 M751,480 L744,489" fill="none" stroke="#231f20" stroke-width="0.4"/>
<path d="M764.75,480 L772,489 M772,480 L764.75,489" fill="none" stroke="#231f20" stroke-width="0.4"/>
<path d="M744,489 L751,498 M751,489 L744,498" fill="none" stroke="#231f20" stroke-width="0.4"/>
<path d="M764.75,489 L772,498 M772,489 L764.75,498" fill="none" stroke="#231f20" stroke-width="0.4"/>
<path d="M744,498 L751,507 M751,498 L744,507" fill="none" stroke="#231f20" stroke-width="0.4"/>
<path d="M764.75,498 L772,507 M772,498 L764.75,507" fill="none" stroke="#231f20" stroke-width="0.4"/>
<path d="M744,507 L751,516 M751,507 L744,516" fill="none" stroke="#231f20" stroke-width="0.4"/>
<path d="M764.75,507 L772,516 M772,507 L764.75,516" fill="none" stroke="#231f20" stroke-width="0.4"/>
<path d="M744,516 L751,525 M751,516 L744,525" fill="none" stroke="#231f20" stroke-width="0.4"/>
<path d="M764.75,516 L772,525 M772,516 L764.75,525" fill="none" stroke="#231f20" stroke-width="0.4"/>
<path d="M744,525 L751,534 M751,525 L744,534" fill="none" stroke="#231f20" stroke-width="0.4"/>
<path d="M764.75,525 L772,534 M772,525 L764.75,534" fill="none" stroke="#231f20" stroke-width="0.4"/>
<path d="M756.5,513.0 L764.75,523.7 M764.75,513.0 L756.5,523.7" fill="none" stroke="#231f20" stroke-width="0.45"/>
<path d="M756.5,523.7 L764.75,534.4000000000001 M764.75,523.7 L756.5,534.4000000000001" fill="none" stroke="#231f20" stroke-width="0.45"/>
<line x1="747.9" y1="534.4" x2="747.9" y2="566.0" stroke="#231f20" stroke-width="0.8"/>
<line x1="751.0" y1="534.4" x2="751.0" y2="566.0" stroke="#231f20" stroke-width="0.8"/>
<line x1="760.4" y1="534.4" x2="760.4" y2="566.0" stroke="#231f20" stroke-width="0.8"/>
<line x1="764.8" y1="534.4" x2="764.8" y2="566.0" stroke="#231f20" stroke-width="0.8"/>
<line x1="807.7" y1="497.2" x2="807.7" y2="548.6" stroke="#231f20" stroke-width="0.7"/>
<path d="M807.7,511 L806.35,503 L809.0500000000001,503 Z" fill="#231f20"/>
<path d="M807.7,534.4 L806.35,542.4 L809.0500000000001,542.4 Z" fill="#231f20"/>
<g transform="translate(806.00 521.80) rotate(-90)">
<text x="-10.00" y="0" font-size="10.8" textLength="20.00" lengthAdjust="spacingAndGlyphs" stroke="#231f20" stroke-width="0.22">10.0</text>
</g>
<line x1="737.7" y1="551.9" x2="795.7" y2="551.9" stroke="#231f20" stroke-width="0.6"/>
<path d="M751,551.9 L743,550.55 L743,553.25 Z" fill="#231f20"/>
<path d="M760.4,551.9 L768.4,550.55 L768.4,553.25 Z" fill="#231f20"/>
<g transform="translate(770.00 550.10)">
<circle cx="4.79" cy="-3.77" r="3.57" fill="none" stroke="#231f20" stroke-width="0.9"/>
<path d="M8.86,-8.76 L0.71,1.02" stroke="#231f20" stroke-width="0.9"/>
<text x="9.57" y="0" font-size="10.8" textLength="16.63" lengthAdjust="spacingAndGlyphs" stroke="#231f20" stroke-width="0.22">4.5</text>
</g>
<line x1="732.3" y1="562.8" x2="795.7" y2="562.8" stroke="#231f20" stroke-width="0.6"/>
<path d="M747.9,562.8 L739.9,561.4499999999999 L739.9,564.15 Z" fill="#231f20"/>
<path d="M764.75,562.8 L772.75,561.4499999999999 L772.75,564.15 Z" fill="#231f20"/>
<g transform="translate(770.00 561.70)">
<circle cx="4.79" cy="-3.77" r="3.57" fill="none" stroke="#231f20" stroke-width="0.9"/>
<path d="M8.86,-8.76 L0.71,1.02" stroke="#231f20" stroke-width="0.9"/>
<text x="9.57" y="0" font-size="10.8" textLength="16.63" lengthAdjust="spacingAndGlyphs" stroke="#231f20" stroke-width="0.22">8.0</text>
</g>
<g transform="translate(760.70 574.20)">
<text x="-21.75" y="0" font-size="10.8" textLength="43.50" lengthAdjust="spacingAndGlyphs" stroke="#231f20" stroke-width="0.22">DETAIL B</text>
</g>
<g transform="translate(773.30 584.30)">
<text x="-60.10" y="0" font-size="10.8" textLength="120.20" lengthAdjust="spacingAndGlyphs" stroke="#231f20" stroke-width="0.22">4 MOUNTING HOLES TYP</text>
</g>
</svg></body></html>
